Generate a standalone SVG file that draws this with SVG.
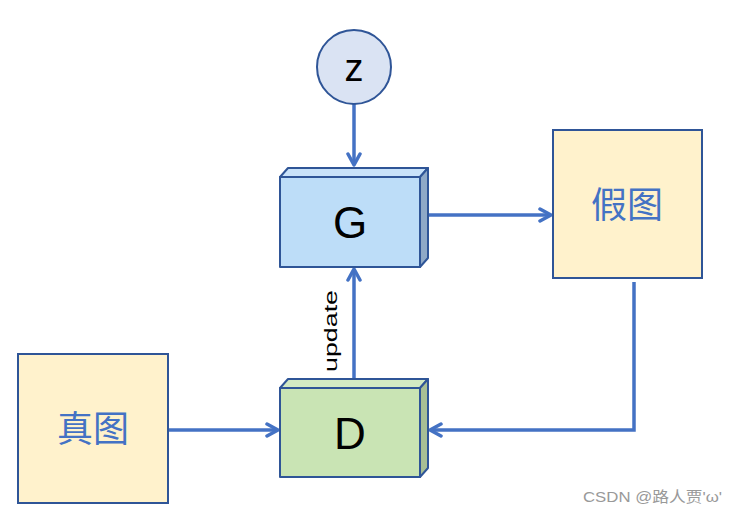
<svg xmlns="http://www.w3.org/2000/svg" width="738" height="516" viewBox="0 0 738 516">
<defs>
<style>
.edge{fill:none;stroke:#4472C4;stroke-width:3.5;}
.box{stroke:#2F5597;stroke-width:2;stroke-linejoin:round;}
.cjk{font-family:"Noto Sans CJK SC","Noto Sans",sans-serif;font-size:36px;fill:#4472C4;text-anchor:middle;}
.lat{font-family:"Liberation Sans",Arial,sans-serif;fill:#000;text-anchor:middle;}
</style>
<marker id="ah2" viewBox="0 0 16 16" refX="14" refY="8" markerWidth="16" markerHeight="16" markerUnits="userSpaceOnUse" orient="auto">
<path d="M3,2 L14,8 L3,14" fill="none" stroke="#4472C4" stroke-width="3.5" stroke-linecap="round" stroke-linejoin="round"/>
</marker>
</defs>
<rect width="738" height="516" fill="#fff"/>
<g id="connectors">
<path class="edge" d="M354,104 L354,165" marker-end="url(#ah2)"/>
<path class="edge" d="M429,215 L551,215" marker-end="url(#ah2)"/>
<path class="edge" d="M634,282 L634,430 L430,430" marker-end="url(#ah2)"/>
<path class="edge" d="M168,430 L278,430" marker-end="url(#ah2)"/>
<path class="edge" d="M354,379 L354,269" marker-end="url(#ah2)"/>
<text x="0" y="0" transform="translate(337,331) rotate(-90)" class="lat" style="font-size:19px" textLength="82" lengthAdjust="spacingAndGlyphs">update</text>
</g>
<g id="z">
<circle cx="354" cy="67" r="37" fill="#DAE3F3" stroke="#2F5597" stroke-width="2"/>
<text x="354" y="81" class="lat" style="font-size:38px">z</text>
</g>
<g id="G">
<path class="box" d="M280,177 L288,168 L428,168 L420,177 Z" fill="#C9E2F9"/>
<path class="box" d="M420,177 L428,168 L428,258 L420,267 Z" fill="#8FA9C7"/>
<rect class="box" x="280" y="177" width="140" height="90" fill="#BDDDF8"/>
<text x="350" y="238" class="lat" style="font-size:44px">G</text>
</g>
<g id="D">
<path class="box" d="M280,388 L288,379 L428,379 L420,388 Z" fill="#D3EAC3"/>
<path class="box" d="M420,388 L428,379 L428,468 L420,477 Z" fill="#A8BF95"/>
<rect class="box" x="280" y="388" width="140" height="89" fill="#C9E4B4"/>
<text x="350" y="449" class="lat" style="font-size:44px">D</text>
</g>
<g id="fake">
<rect x="553" y="130" width="149" height="148" fill="#FFF2CC" stroke="#2F5597" stroke-width="2"/>
<text x="627" y="218" class="cjk">假图</text>
</g>
<g id="real">
<rect x="18" y="354" width="150" height="149" fill="#FFF2CC" stroke="#2F5597" stroke-width="2"/>
<text x="93" y="442" class="cjk">真图</text>
</g>
<text x="583" y="502" textLength="139" lengthAdjust="spacingAndGlyphs" style="font-family:'Liberation Sans','Noto Sans CJK SC',sans-serif;font-size:15px;fill:#999">CSDN @路人贾'ω'</text>
</svg>
